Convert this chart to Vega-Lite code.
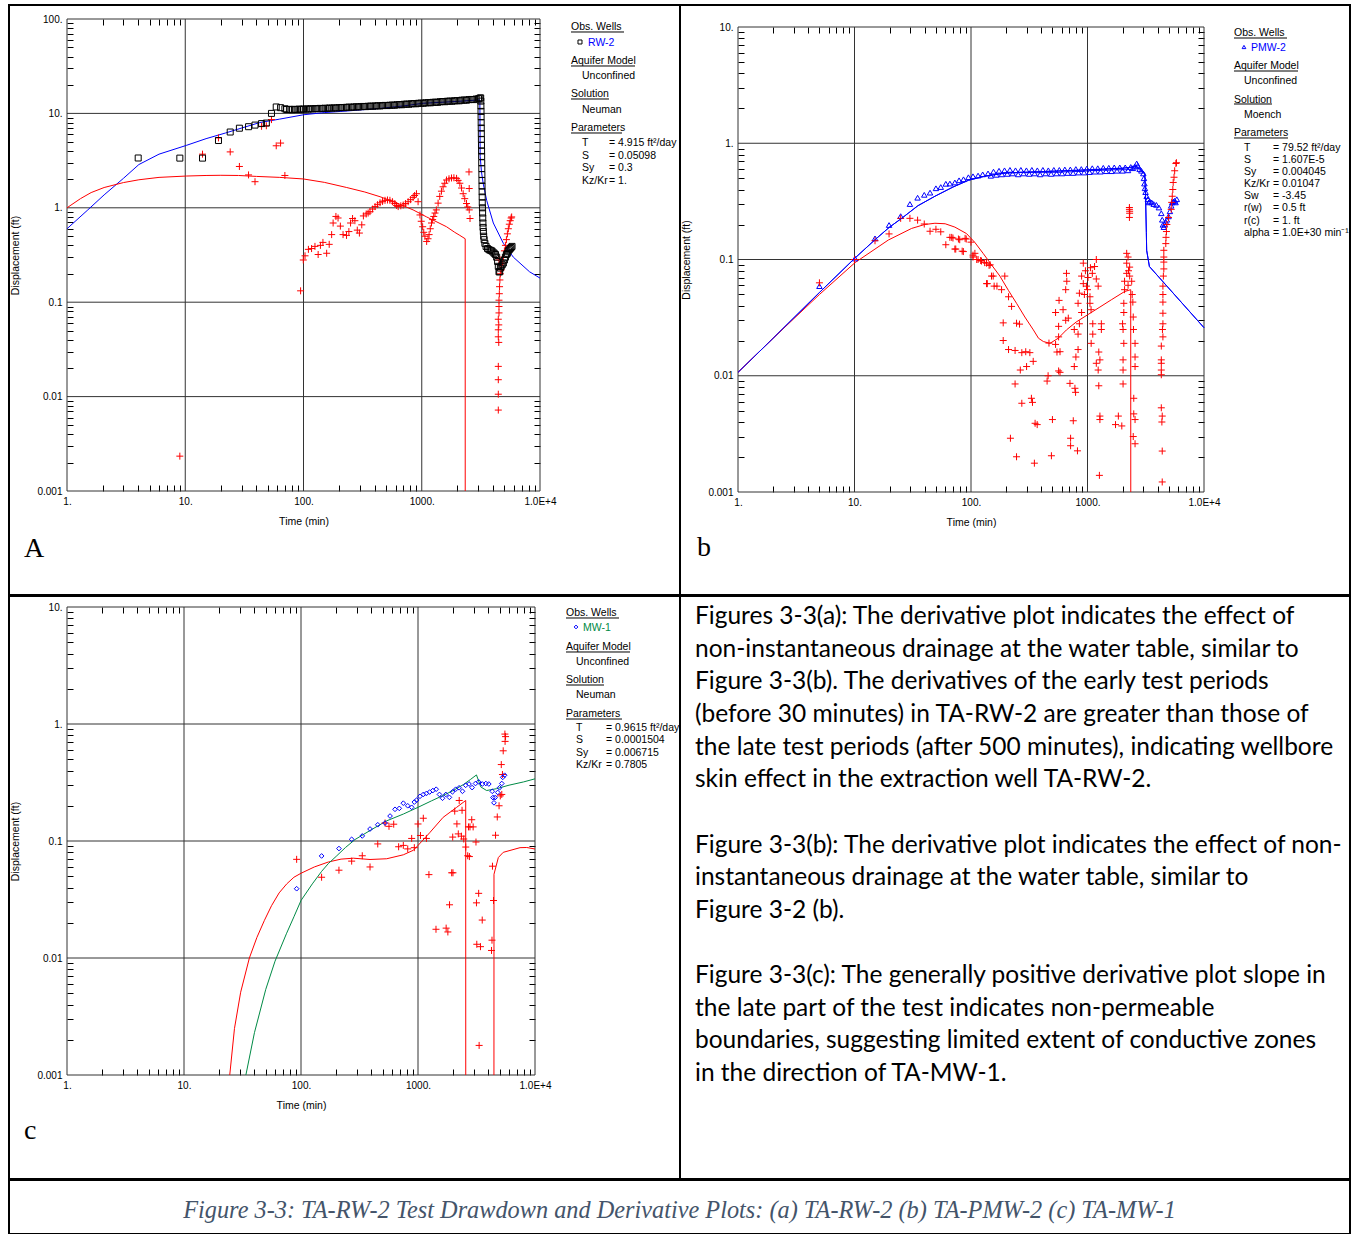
{
"$schema": "https://vega.github.io/schema/vega-lite/v6.json",
"padding": {"left": 8, "top": 4, "right": 2, "bottom": 1},
"background": "white",
"config": {
  "view": {"stroke": "#000", "strokeWidth": 2},
  "font": "Liberation Sans",
  "axis": {"labelFont": "Liberation Sans", "labelFontSize": 10, "labelColor": "#000", "titleFont": "Liberation Sans", "titleFontSize": 10.5, "titleFontWeight": "normal", "titleColor": "#000", "tickColor": "#000", "grid": false, "domain": false}
},
"datasets": {
  "one": [{"k": 1}],
  "gx": [{"t": 1}, {"t": 10}, {"t": 100}, {"t": 1000}, {"t": 10000}],
  "gyA": [{"s": 0.001}, {"s": 0.01}, {"s": 0.1}, {"s": 1}, {"s": 10}, {"s": 100}],
  "gyB": [{"s": 0.001}, {"s": 0.01}, {"s": 0.1}, {"s": 1}, {"s": 10}],
  "a_obs": [
    {"t":4.0,"s":3.37},{"t":9.0,"s":3.36},{"t":14.0,"s":3.36},{"t":19.1,"s":5.16},{"t":24.0,"s":6.35},{"t":28.7,"s":6.97},{"t":34.3,"s":7.23},{"t":38.9,"s":7.52},{"t":44.2,"s":7.8},{"t":48.5,"s":7.9},{"t":53.6,"s":10.0},{"t":58.8,"s":11.7},{"t":64,"s":11.5},{"t":69.6,"s":11.2},
    {"t":72,"s":11.0},{"t":76,"s":11.05},{"t":80,"s":10.95},{"t":84,"s":11.05},{"t":88,"s":11.0},{"t":92,"s":11.1},{"t":96,"s":11.05},{"t":100,"s":11.1},{"t":105,"s":11.15},{"t":110,"s":11.1},{"t":115,"s":11.2},{"t":120,"s":11.15},{"t":126,"s":11.25},{"t":132,"s":11.2},{"t":138,"s":11.3},{"t":145,"s":11.25},{"t":152,"s":11.35},{"t":159,"s":11.3},{"t":166,"s":11.4},{"t":174,"s":11.35},{"t":182,"s":11.45},{"t":191,"s":11.4},{"t":200,"s":11.5},{"t":210,"s":11.55},{"t":220,"s":11.5},{"t":231,"s":11.6},{"t":242,"s":11.65},{"t":254,"s":11.6},{"t":266,"s":11.7},{"t":279,"s":11.75},{"t":292,"s":11.7},{"t":306,"s":11.8},{"t":321,"s":11.85},{"t":336,"s":11.8},{"t":352,"s":11.9},{"t":369,"s":11.95},{"t":387,"s":11.9},{"t":405,"s":12.0},{"t":425,"s":12.05},{"t":445,"s":12.0},{"t":466,"s":12.1},{"t":489,"s":12.15},{"t":512,"s":12.1},{"t":537,"s":12.2},{"t":562,"s":12.25},{"t":589,"s":12.2},{"t":617,"s":12.35},{"t":647,"s":12.4},{"t":678,"s":12.35},{"t":710,"s":12.5},{"t":744,"s":12.55},{"t":780,"s":12.5},{"t":817,"s":12.65},{"t":856,"s":12.7},{"t":897,"s":12.65},{"t":940,"s":12.8},{"t":985,"s":12.85},{"t":1032,"s":12.8},{"t":1081,"s":12.95},{"t":1133,"s":13.0},{"t":1187,"s":12.95},{"t":1244,"s":13.1},{"t":1303,"s":13.15},{"t":1366,"s":13.1},{"t":1431,"s":13.3},{"t":1500,"s":13.35},{"t":1571,"s":13.3},{"t":1646,"s":13.45},{"t":1725,"s":13.5},{"t":1808,"s":13.45},{"t":1894,"s":13.6},{"t":1984,"s":13.65},{"t":2079,"s":13.6},{"t":2179,"s":13.8},{"t":2283,"s":13.85},{"t":2392,"s":13.8},{"t":2506,"s":14.0},{"t":2626,"s":14.05},{"t":2752,"s":14.0},{"t":2883,"s":14.2},{"t":3021,"s":14.3},{"t":3100,"s":14.5},{"t":3150,"s":14.6},
    {"t":3160,"s":13.5},{"t":3165,"s":12},{"t":3170,"s":10.5},{"t":3175,"s":9.2},{"t":3180,"s":8},{"t":3185,"s":7},{"t":3190,"s":6.1},{"t":3195,"s":5.3},{"t":3200,"s":4.6},{"t":3205,"s":4.0},{"t":3210,"s":3.5},{"t":3215,"s":3.0},{"t":3220,"s":2.6},{"t":3225,"s":2.25},{"t":3230,"s":1.95},{"t":3235,"s":1.7},{"t":3240,"s":1.48},{"t":3245,"s":1.3},{"t":3250,"s":1.13},{"t":3260,"s":1.0},{"t":3270,"s":0.88},{"t":3280,"s":0.78},{"t":3290,"s":0.69},{"t":3300,"s":0.62},{"t":3320,"s":0.56},{"t":3340,"s":0.5},
    {"t":3370,"s":0.46},{"t":3420,"s":0.42},{"t":3500,"s":0.39},{"t":3600,"s":0.37},{"t":3700,"s":0.36},{"t":3800,"s":0.355},{"t":3900,"s":0.35},{"t":4000,"s":0.34},{"t":4100,"s":0.33},{"t":4200,"s":0.32},{"t":4300,"s":0.30},{"t":4380,"s":0.27},{"t":4440,"s":0.24},{"t":4500,"s":0.21},{"t":4560,"s":0.21},{"t":4620,"s":0.23},{"t":4700,"s":0.24},{"t":4800,"s":0.25},{"t":4900,"s":0.26},{"t":5000,"s":0.28},{"t":5100,"s":0.30},{"t":5200,"s":0.32},{"t":5300,"s":0.33},{"t":5400,"s":0.35},{"t":5500,"s":0.36},{"t":5600,"s":0.37},{"t":5700,"s":0.38},{"t":5800,"s":0.39}
  ],
  "a_der": [
    {"t":9.0,"s":0.00234},{"t":14,"s":3.7},{"t":19.1,"s":5.5},{"t":24,"s":3.91},{"t":28.7,"s":2.74},{"t":34.3,"s":2.23},{"t":38.9,"s":1.89},{"t":44.2,"s":7.3},{"t":48.5,"s":7.4},{"t":53.6,"s":8.6},{"t":58.8,"s":4.54},{"t":64,"s":4.85},{"t":69.6,"s":2.2},
    {"t":94.5,"s":0.132},{"t":99.6,"s":0.28},{"t":103,"s":0.31},{"t":110,"s":0.363},{"t":117,"s":0.37},{"t":125,"s":0.39},{"t":133,"s":0.32},{"t":139,"s":0.40},{"t":146,"s":0.43},{"t":157,"s":0.33},{"t":165,"s":0.41},{"t":173,"s":0.52},{"t":178,"s":0.69},{"t":188,"s":0.81},{"t":196,"s":0.78},{"t":205,"s":0.64},{"t":216,"s":0.52},{"t":231,"s":0.51},{"t":242,"s":0.56},{"t":250,"s":0.69},{"t":260,"s":0.77},{"t":272,"s":0.73},{"t":285,"s":0.58},{"t":297,"s":0.54},{"t":311,"s":0.66},{"t":321,"s":0.82},{"t":339,"s":0.86},{"t":352,"s":0.88},{"t":365,"s":0.91},{"t":384,"s":0.97},{"t":403,"s":1.03},{"t":423,"s":1.08},{"t":444,"s":1.13},{"t":466,"s":1.17},{"t":489,"s":1.2},{"t":513,"s":1.21},{"t":538,"s":1.2},{"t":565,"s":1.16},{"t":592,"s":1.11},{"t":612,"s":1.06},{"t":632,"s":1.03},{"t":665,"s":1.05},{"t":697,"s":1.07},{"t":730,"s":1.11},{"t":767,"s":1.16},{"t":805,"s":1.22},{"t":845,"s":1.29},{"t":870,"s":1.35},{"t":902,"s":1.41},{"t":931,"s":1.16},{"t":966,"s":0.84},{"t":990,"s":0.72},{"t":1018,"s":0.63},{"t":1040,"s":0.55},{"t":1064,"s":0.50},{"t":1100,"s":0.44},{"t":1130,"s":0.47},{"t":1154,"s":0.52},{"t":1180,"s":0.6},{"t":1209,"s":0.69},{"t":1236,"s":0.75},{"t":1263,"s":0.81},{"t":1295,"s":0.88},{"t":1329,"s":0.95},{"t":1375,"s":1.12},{"t":1420,"s":1.32},{"t":1467,"s":1.5},{"t":1515,"s":1.67},{"t":1565,"s":1.82},{"t":1620,"s":1.97},{"t":1700,"s":2.03},{"t":1785,"s":2.07},{"t":1870,"s":2.08},{"t":1970,"s":2.05},{"t":2030,"s":1.95},{"t":2100,"s":1.82},{"t":2170,"s":1.62},{"t":2240,"s":1.41},{"t":2310,"s":1.25},{"t":2390,"s":1.11},{"t":2450,"s":1.02},{"t":2520,"s":0.95},{"t":2510,"s":2.4},{"t":2520,"s":1.6},{"t":2560,"s":0.77},
    {"t":4440,"s":0.0072},{"t":4440,"s":0.0106},{"t":4440,"s":0.0151},{"t":4440,"s":0.0209},{"t":4480,"s":0.0375},{"t":4440,"s":0.043},{"t":4440,"s":0.051},{"t":4480,"s":0.0575},{"t":4440,"s":0.066},{"t":4500,"s":0.077},{"t":4500,"s":0.09},{"t":4500,"s":0.105},{"t":4530,"s":0.123},{"t":4550,"s":0.146},{"t":4580,"s":0.172},{"t":4620,"s":0.2},{"t":4700,"s":0.22},{"t":4800,"s":0.26},{"t":4900,"s":0.3},{"t":5000,"s":0.35},{"t":5100,"s":0.4},{"t":5200,"s":0.46},{"t":5300,"s":0.53},{"t":5400,"s":0.6},{"t":5500,"s":0.67},{"t":5600,"s":0.73},{"t":5700,"s":0.78},{"t":5760,"s":0.8},{"t":4600,"s":0.25},{"t":4500,"s":0.28}
  ],
  "a_mod": [
    {"t":1,"s":0.6},{"t":1.5,"s":0.95},{"t":2.06,"s":1.37},{"t":3,"s":2.05},{"t":4.05,"s":2.87},{"t":6,"s":3.7},{"t":10.2,"s":4.58},{"t":15,"s":5.4},{"t":21.9,"s":6.2},{"t":30,"s":7.0},{"t":42.7,"s":8.0},{"t":63,"s":8.7},{"t":100,"s":9.67},{"t":150,"s":10.2},{"t":233,"s":10.6},{"t":444,"s":11.3},{"t":700,"s":12.0},{"t":1030,"s":12.8},{"t":2000,"s":13.4},{"t":3050,"s":13.9},{"t":3100,"s":13.9},{"t":3110,"s":8.0},{"t":3115,"s":5.0},{"t":3120,"s":3.5},{"t":3200,"s":2.4},{"t":3310,"s":1.8},{"t":3540,"s":1.2},{"t":4030,"s":0.69},{"t":4900,"s":0.42},{"t":5950,"s":0.3},{"t":8160,"s":0.21},{"t":10000,"s":0.18}
  ],
  "a_dmod": [
    {"t":1,"s":1.0},{"t":1.3,"s":1.25},{"t":1.6,"s":1.45},{"t":2.06,"s":1.64},{"t":3,"s":1.85},{"t":4.05,"s":1.98},{"t":6,"s":2.1},{"t":10.2,"s":2.17},{"t":15,"s":2.2},{"t":20,"s":2.21},{"t":28.2,"s":2.2},{"t":40,"s":2.15},{"t":63,"s":2.1},{"t":100,"s":2.02},{"t":150,"s":1.86},{"t":232,"s":1.64},{"t":330,"s":1.47},{"t":444,"s":1.31},{"t":600,"s":1.14},{"t":845,"s":0.95},{"t":1100,"s":0.8},{"t":1400,"s":0.69},{"t":1620,"s":0.63},{"t":1900,"s":0.55},{"t":2100,"s":0.51},{"t":2330,"s":0.47},{"t":2332,"s":0.001}
  ],
  "b_obs": [
    {"t":5,"s":0.059},{"t":10.1,"s":0.102},{"t":15,"s":0.152},{"t":19.8,"s":0.198},{"t":24.9,"s":0.236},{"t":29.9,"s":0.3},{"t":34.8,"s":0.34},{"t":39.7,"s":0.36},{"t":44.5,"s":0.376},{"t":50,"s":0.41},{"t":55,"s":0.42},{"t":60.8,"s":0.448},{"t":65.9,"s":0.45},{"t":72.7,"s":0.46},{"t":79,"s":0.48},{"t":86.2,"s":0.49},{"t":95,"s":0.51},{"t":104,"s":0.52},{"t":115,"s":0.527},{"t":126,"s":0.54},{"t":140,"s":0.55},
    {"t":148,"s":0.525},{"t":156,"s":0.57},{"t":165,"s":0.535},{"t":174,"s":0.58},{"t":184,"s":0.54},{"t":194,"s":0.585},{"t":205,"s":0.545},{"t":216,"s":0.59},{"t":228,"s":0.55},{"t":241,"s":0.585},{"t":254,"s":0.54},{"t":268,"s":0.59},{"t":283,"s":0.55},{"t":299,"s":0.585},{"t":316,"s":0.545},{"t":333,"s":0.59},{"t":352,"s":0.55},{"t":371,"s":0.585},{"t":392,"s":0.54},{"t":414,"s":0.59},{"t":437,"s":0.55},{"t":461,"s":0.585},{"t":487,"s":0.545},{"t":514,"s":0.59},{"t":543,"s":0.55},{"t":573,"s":0.59},{"t":605,"s":0.55},{"t":639,"s":0.595},{"t":675,"s":0.555},{"t":712,"s":0.595},{"t":752,"s":0.555},{"t":794,"s":0.6},{"t":838,"s":0.56},{"t":885,"s":0.6},{"t":934,"s":0.56},{"t":986,"s":0.605},{"t":1041,"s":0.565},{"t":1099,"s":0.61},{"t":1161,"s":0.57},{"t":1225,"s":0.61},{"t":1294,"s":0.57},{"t":1366,"s":0.615},{"t":1442,"s":0.575},{"t":1523,"s":0.615},{"t":1608,"s":0.575},{"t":1697,"s":0.62},{"t":1792,"s":0.58},{"t":1892,"s":0.62},{"t":1998,"s":0.58},{"t":2109,"s":0.62},{"t":2227,"s":0.585},{"t":2350,"s":0.625},
    {"t":2450,"s":0.61},{"t":2550,"s":0.63},{"t":2645,"s":0.67},{"t":2700,"s":0.64},{"t":2800,"s":0.6},{"t":2900,"s":0.58},{"t":3013,"s":0.55},{"t":3050,"s":0.5},{"t":3080,"s":0.45},{"t":3110,"s":0.41},{"t":3150,"s":0.38},{"t":3220,"s":0.35},{"t":3300,"s":0.33},{"t":3360,"s":0.31},{"t":3428,"s":0.316},{"t":3550,"s":0.31},{"t":3700,"s":0.3},{"t":3900,"s":0.295},{"t":4100,"s":0.28},{"t":4300,"s":0.25},{"t":4380,"s":0.22},{"t":4440,"s":0.199},{"t":4520,"s":0.19},{"t":4600,"s":0.2},{"t":4700,"s":0.21},{"t":4800,"s":0.22},{"t":4960,"s":0.235},{"t":5100,"s":0.26},{"t":5230,"s":0.29},{"t":5340,"s":0.31},{"t":5470,"s":0.316},{"t":5600,"s":0.32},{"t":5700,"s":0.31},{"t":5840,"s":0.33}
  ],
  "b_der": [
    {"t":5,"s":0.063},{"t":10,"s":0.1},{"t":15,"s":0.145},{"t":19.8,"s":0.166},{"t":24.9,"s":0.226},{"t":29.9,"s":0.226},{"t":34.8,"s":0.218},{"t":39.7,"s":0.202},{"t":44.5,"s":0.175},{"t":50,"s":0.182},{"t":55,"s":0.173},{"t":60.8,"s":0.134},{"t":65.9,"s":0.155},{"t":70,"s":0.153},{"t":74,"s":0.123},{"t":80,"s":0.148},{"t":86,"s":0.117},{"t":91,"s":0.15},{"t":100,"s":0.141},{"t":104,"s":0.105},{"t":108,"s":0.113},{"t":115,"s":0.1},{"t":121,"s":0.098},{"t":131,"s":0.094},{"t":138,"s":0.062},{"t":143,"s":0.089},{"t":150,"s":0.072},{"t":158,"s":0.059},
    {"t":68.3,"s":0.155},{"t":78,"s":0.15},{"t":89,"s":0.152},{"t":72.7,"s":0.123},{"t":84,"s":0.118},{"t":104,"s":0.109},{"t":112,"s":0.1},{"t":123,"s":0.097},{"t":136,"s":0.093},{"t":146,"s":0.09},{"t":136,"s":0.062},{"t":155,"s":0.072},{"t":167,"s":0.059},{"t":183,"s":0.055},{"t":195,"s":0.072},{"t":189,"s":0.0285},{"t":210,"s":0.0478},{"t":223,"s":0.0395},{"t":246,"s":0.0283},{"t":261,"s":0.0278},{"t":189,"s":0.0201},{"t":210,"s":0.0168},{"t":239,"s":0.0165},{"t":273,"s":0.0158},{"t":295,"s":0.0161},{"t":320,"s":0.0158},{"t":342,"s":0.0133},{"t":300,"s":0.012},{"t":265,"s":0.0112},{"t":239,"s":0.0085},{"t":273,"s":0.0058},{"t":330,"s":0.0064},{"t":337,"s":0.0059},{"t":355,"s":0.0039},{"t":370,"s":0.0038},{"t":218,"s":0.0029},{"t":246,"s":0.00201},{"t":350,"s":0.00177},{"t":490,"s":0.00205},{"t":500,"s":0.0042},{"t":459,"s":0.01},{"t":450,"s":0.009},{"t":467,"s":0.0191},{"t":532,"s":0.0186},{"t":547,"s":0.016},{"t":581,"s":0.0161},{"t":565,"s":0.0216},{"t":565,"s":0.0266},{"t":532,"s":0.035},{"t":570,"s":0.0445},{"t":617,"s":0.037},{"t":650,"s":0.055},{"t":660,"s":0.076},{"t":664,"s":0.065},{"t":684,"s":0.0313},{"t":650,"s":0.03},{"t":565,"s":0.011},{"t":581,"s":0.0107},{"t":707,"s":0.0086},{"t":780,"s":0.0078},{"t":790,"s":0.0072},{"t":716,"s":0.0029},{"t":716,"s":0.0025},{"t":820,"s":0.00226},{"t":755,"s":0.0041},{"t":770,"s":0.012},{"t":795,"s":0.0145},{"t":830,"s":0.0168},{"t":830,"s":0.0228},{"t":852,"s":0.028},{"t":770,"s":0.025},{"t":890,"s":0.035},{"t":830,"s":0.042},{"t":852,"s":0.0513},{"t":920,"s":0.062},{"t":890,"s":0.072},{"t":920,"s":0.093},{"t":980,"s":0.059},{"t":1000,"s":0.055},{"t":1050,"s":0.0478},{"t":1050,"s":0.042},{"t":1073,"s":0.037},{"t":1100,"s":0.076},{"t":1150,"s":0.087},{"t":1190,"s":0.1},{"t":1190,"s":0.068},{"t":1235,"s":0.059},{"t":1110,"s":0.028},{"t":1110,"s":0.0228},{"t":1075,"s":0.019},{"t":1250,"s":0.016},{"t":1315,"s":0.028},{"t":1315,"s":0.025},{"t":1278,"s":0.0137},{"t":1190,"s":0.0128},{"t":1235,"s":0.0112},{"t":1250,"s":0.0082},{"t":1278,"s":0.0045},{"t":1278,"s":0.0042},{"t":1265,"s":0.00139},{"t":960,"s":0.08},{"t":1010,"s":0.07},{"t":1060,"s":0.085},{"t":940,"s":0.05},
    {"t":1740,"s":0.0038},{"t":1840,"s":0.0045},{"t":1970,"s":0.0037},{"t":2020,"s":0.0085},{"t":2020,"s":0.0112},{"t":2020,"s":0.0137},{"t":2050,"s":0.019},{"t":2020,"s":0.025},{"t":2000,"s":0.028},{"t":2050,"s":0.035},{"t":2050,"s":0.042},{"t":2080,"s":0.055},{"t":2080,"s":0.065},{"t":2170,"s":0.076},{"t":2170,"s":0.093},{"t":2170,"s":0.113},{"t":2230,"s":0.105},{"t":2300,"s":0.086},{"t":2300,"s":0.072},{"t":2395,"s":0.065},{"t":2420,"s":0.05},{"t":2450,"s":0.043},{"t":2470,"s":0.032},{"t":2480,"s":0.025},{"t":2560,"s":0.019},{"t":2560,"s":0.0145},{"t":2560,"s":0.012},{"t":2495,"s":0.0064},{"t":2495,"s":0.0047},{"t":2560,"s":0.0042},{"t":2470,"s":0.003},{"t":2560,"s":0.0026},{"t":2290,"s":0.28},{"t":2300,"s":0.25},{"t":2290,"s":0.27},{"t":2290,"s":0.23},{"t":2300,"s":0.26},{"t":2230,"s":0.06},{"t":2250,"s":0.08},
    {"t":4300,"s":0.018},{"t":4300,"s":0.0137},{"t":4300,"s":0.0128},{"t":4300,"s":0.0112},{"t":4300,"s":0.0102},{"t":4440,"s":0.0345},{"t":4440,"s":0.028},{"t":4400,"s":0.025},{"t":4440,"s":0.0216},{"t":4440,"s":0.043},{"t":4440,"s":0.05},{"t":4440,"s":0.059},{"t":4480,"s":0.072},{"t":4520,"s":0.083},{"t":4520,"s":0.095},{"t":4520,"s":0.105},{"t":4520,"s":0.12},{"t":4700,"s":0.137},{"t":4720,"s":0.155},{"t":4760,"s":0.174},{"t":4800,"s":0.2},{"t":4960,"s":0.23},{"t":5230,"s":0.27},{"t":5280,"s":0.31},{"t":5340,"s":0.35},{"t":5400,"s":0.4},{"t":5440,"s":0.46},{"t":5530,"s":0.51},{"t":5600,"s":0.58},{"t":5740,"s":0.67},{"t":5800,"s":0.68},{"t":4300,"s":0.0053},{"t":4380,"s":0.0045},{"t":4350,"s":0.004},{"t":4380,"s":0.00225},{"t":4380,"s":0.00122}
  ],
  "b_mod": [
    {"t":1,"s":0.0107},{"t":2,"s":0.021},{"t":5,"s":0.052},{"t":10,"s":0.102},{"t":15,"s":0.148},{"t":20,"s":0.19},{"t":25.4,"s":0.226},{"t":35,"s":0.29},{"t":49,"s":0.35},{"t":70,"s":0.42},{"t":95,"s":0.48},{"t":130,"s":0.52},{"t":200,"s":0.555},{"t":400,"s":0.57},{"t":1000,"s":0.59},{"t":2000,"s":0.61},{"t":2645,"s":0.63},{"t":3100,"s":0.55},{"t":3150,"s":0.35},{"t":3200,"s":0.17},{"t":3220,"s":0.12},{"t":3400,"s":0.087},{"t":10000,"s":0.0259}
  ],
  "b_dmod": [
    {"t":1,"s":0.0107},{"t":2,"s":0.021},{"t":5,"s":0.05},{"t":10.1,"s":0.094},{"t":19.5,"s":0.147},{"t":30.9,"s":0.185},{"t":40,"s":0.2},{"t":49,"s":0.205},{"t":60,"s":0.203},{"t":72.7,"s":0.19},{"t":91.6,"s":0.167},{"t":108,"s":0.14},{"t":127,"s":0.113},{"t":150,"s":0.09},{"t":177,"s":0.072},{"t":210,"s":0.054},{"t":246,"s":0.042},{"t":290,"s":0.032},{"t":343,"s":0.0248},{"t":380,"s":0.021},{"t":418,"s":0.0197},{"t":476,"s":0.019},{"t":560,"s":0.021},{"t":660,"s":0.0248},{"t":800,"s":0.029},{"t":1000,"s":0.0334},{"t":1278,"s":0.039},{"t":1600,"s":0.045},{"t":2080,"s":0.053},{"t":2350,"s":0.055},{"t":2352,"s":0.001}
  ],
  "c_obs": [
    {"t":91.8,"s":0.0391},{"t":150,"s":0.0745},{"t":211,"s":0.0862},{"t":271,"s":0.1034},{"t":334,"s":0.1105},{"t":389,"s":0.1266},{"t":453,"s":0.1377},{"t":523,"s":0.1425},{"t":577,"s":0.1635},{"t":636,"s":0.1866},{"t":692,"s":0.19},{"t":749,"s":0.2105},{"t":817,"s":0.2},{"t":883,"s":0.194},{"t":930,"s":0.215},{"t":975,"s":0.224},{"t":1040,"s":0.241},{"t":1110,"s":0.25},{"t":1180,"s":0.255},{"t":1257,"s":0.262},{"t":1340,"s":0.27},{"t":1430,"s":0.277},{"t":1525,"s":0.25},{"t":1620,"s":0.232},{"t":1730,"s":0.25},{"t":1855,"s":0.236},{"t":1970,"s":0.263},{"t":2100,"s":0.277},{"t":2245,"s":0.285},{"t":2400,"s":0.266},{"t":2555,"s":0.299},{"t":2730,"s":0.307},{"t":2900,"s":0.286},{"t":3100,"s":0.31},{"t":3300,"s":0.32},{"t":3550,"s":0.307},{"t":3800,"s":0.31},{"t":4030,"s":0.307},{"t":4310,"s":0.266},{"t":4370,"s":0.235},{"t":4460,"s":0.212},{"t":4560,"s":0.235},{"t":4800,"s":0.26},{"t":4970,"s":0.285},{"t":5200,"s":0.31},{"t":5300,"s":0.35},{"t":5500,"s":0.365}
  ],
  "c_der": [
    {"t":91.8,"s":0.0697},{"t":150,"s":0.049},{"t":211,"s":0.0563},{"t":271,"s":0.0673},{"t":334,"s":0.0748},{"t":389,"s":0.06},{"t":453,"s":0.0944},{"t":523,"s":0.1425},{"t":565,"s":0.1335},{"t":620,"s":0.1392},{"t":683,"s":0.0893},{"t":749,"s":0.0917},{"t":817,"s":0.0856},{"t":883,"s":0.1052},{"t":930,"s":0.0877},{"t":1000,"s":0.1398},{"t":1050,"s":0.1115},{"t":1110,"s":0.1565},{"t":1180,"s":0.1052},{"t":1240,"s":0.0516},{"t":1425,"s":0.0176},{"t":1740,"s":0.018},{"t":1800,"s":0.0167},{"t":1860,"s":0.0285},{"t":1940,"s":0.0535},{"t":1990,"s":0.0535},{"t":1980,"s":0.108},{"t":2060,"s":0.18},{"t":2150,"s":0.14},{"t":2210,"s":0.115},{"t":2250,"s":0.222},{"t":2350,"s":0.11},{"t":2380,"s":0.183},{"t":2460,"s":0.104},{"t":2560,"s":0.0888},{"t":2660,"s":0.0748},{"t":2750,"s":0.0736},{"t":2700,"s":0.132},{"t":2880,"s":0.152},{"t":2780,"s":0.132},{"t":2960,"s":0.132},{"t":3130,"s":0.098},{"t":3300,"s":0.0357},{"t":3160,"s":0.0296},{"t":3540,"s":0.0211},{"t":3180,"s":0.0131},{"t":3420,"s":0.0125},{"t":3330,"s":0.00179},{"t":4330,"s":0.0609},{"t":4420,"s":0.031},{"t":4290,"s":0.0142},{"t":4250,"s":0.0116},{"t":4600,"s":0.112},{"t":4760,"s":0.1605},{"t":4930,"s":0.2},{"t":5050,"s":0.243},{"t":5200,"s":0.25},{"t":5150,"s":0.45},{"t":5270,"s":0.37},{"t":5350,"s":0.59},{"t":5550,"s":0.71},{"t":5530,"s":0.82},{"t":5600,"s":0.78}
  ],
  "c_mod": [
    {"t":33.8,"s":0.001},{"t":40,"s":0.0023},{"t":50,"s":0.0054},{"t":60,"s":0.0094},{"t":75,"s":0.0161},{"t":87,"s":0.0225},{"t":100,"s":0.031},{"t":125,"s":0.043},{"t":150,"s":0.055},{"t":171,"s":0.064},{"t":200,"s":0.074},{"t":240,"s":0.088},{"t":290,"s":0.103},{"t":400,"s":0.125},{"t":540,"s":0.1487},{"t":750,"s":0.17},{"t":1000,"s":0.194},{"t":1300,"s":0.22},{"t":1640,"s":0.245},{"t":2000,"s":0.27},{"t":2460,"s":0.305},{"t":2800,"s":0.335},{"t":3160,"s":0.367},{"t":3440,"s":0.29},{"t":3860,"s":0.27},{"t":4690,"s":0.28},{"t":6000,"s":0.3},{"t":8000,"s":0.32},{"t":10000,"s":0.34}
  ],
  "c_dmod": [
    {"g":1,"t":24.6,"s":0.001},{"g":1,"t":27,"s":0.0025},{"g":1,"t":30.5,"s":0.0051},{"g":1,"t":36.2,"s":0.01},{"g":1,"t":42,"s":0.015},{"g":1,"t":48.7,"s":0.021},{"g":1,"t":56,"s":0.028},{"g":1,"t":65,"s":0.036},{"g":1,"t":75.5,"s":0.043},{"g":1,"t":87,"s":0.049},{"g":1,"t":100,"s":0.053},{"g":1,"t":130,"s":0.06},{"g":1,"t":171,"s":0.0661},{"g":1,"t":220,"s":0.07},{"g":1,"t":280,"s":0.0713},{"g":1,"t":389,"s":0.0695},{"g":1,"t":540,"s":0.0705},{"g":1,"t":749,"s":0.0762},{"g":1,"t":914,"s":0.0834},{"g":1,"t":1000,"s":0.0916},{"g":1,"t":1257,"s":0.1175},{"g":1,"t":1640,"s":0.1593},{"g":1,"t":2140,"s":0.194},{"g":1,"t":2557,"s":0.222},{"g":1,"t":2559,"s":0.001},
    {"g":2,"t":4458,"s":0.001},{"g":2,"t":4462,"s":0.052},{"g":2,"t":4860,"s":0.0722},{"g":2,"t":5350,"s":0.08},{"g":2,"t":7450,"s":0.0877},{"g":2,"t":8500,"s":0.088},{"g":2,"t":10000,"s":0.0854}
  ],
  "txt": [
    {"n":0,"line":"Figures 3-3(a): The derivative plot indicates the effect of"},
    {"n":1,"line":"non-instantaneous drainage at the water table, similar to"},
    {"n":2,"line":"Figure 3-3(b).  The derivatives of the early test periods"},
    {"n":3,"line":"(before 30 minutes) in TA-RW-2 are greater than those of"},
    {"n":4,"line":"the late test periods (after 500 minutes), indicating wellbore"},
    {"n":5,"line":"skin effect in the extraction well TA-RW-2."},
    {"n":7,"line":"Figure 3-3(b): The derivative plot indicates the effect of non-"},
    {"n":8,"line":"instantaneous drainage at the water table, similar to"},
    {"n":9,"line":"Figure 3-2 (b)."},
    {"n":11,"line":"Figure 3-3(c): The generally positive derivative plot slope in"},
    {"n":12,"line":"the late part of the test indicates non-permeable"},
    {"n":13,"line":"boundaries, suggesting limited extent of conductive zones"},
    {"n":14,"line":"in the direction of TA-MW-1."}
  ]
},
"spacing": -2,
"vconcat": [
 {"hconcat": [
  {"width": 671, "height": 590,
   "resolve": {"axis": {"x": "independent", "y": "independent"}},
   "layer": [
    {"data": {"name": "gx"}, "mark": {"type": "rule", "color": "#333", "strokeWidth": 1},
     "encoding": {"x": {"field": "t", "type": "quantitative", "scale": {"type": "log", "domain": [1, 10000], "range": [58, 531], "nice": false}, "axis": null},
                  "y": {"datum": 0.001, "type": "quantitative", "scale": {"type": "log", "domain": [0.001, 100], "range": [486, 14], "nice": false}, "axis": null}, "y2": {"datum": 100}}},
    {"data": {"name": "gyA"}, "mark": {"type": "rule", "color": "#333", "strokeWidth": 1},
     "encoding": {"y": {"field": "s", "type": "quantitative", "scale": {"type": "log", "domain": [0.001, 100], "range": [486, 14], "nice": false}, "axis": null},
                  "x": {"datum": 1, "type": "quantitative", "scale": {"type": "log", "domain": [1, 10000], "range": [58, 531], "nice": false}, "axis": null}, "x2": {"datum": 10000}}},
    {"data": {"name": "a_mod"}, "mark": {"type": "line", "color": "#0000ff", "strokeWidth": 1},
     "encoding": {"x": {"field": "t", "type": "quantitative", "scale": {"type": "log", "domain": [1, 10000], "range": [58, 531], "nice": false},
                        "axis": {"orient": "top", "offset": -20, "values": [2,3,4,5,6,7,8,9,20,30,40,50,60,70,80,90,200,300,400,500,600,700,800,900,2000,3000,4000,5000,6000,7000,8000,9000], "labels": false, "ticks": true, "tickSize": 6, "title": null}},
                  "y": {"field": "s", "type": "quantitative", "scale": {"type": "log", "domain": [0.001, 100], "range": [486, 14], "nice": false},
                        "axis": {"orient": "right", "offset": -146, "values": [0.002,0.003,0.004,0.005,0.006,0.007,0.008,0.009,0.02,0.03,0.04,0.05,0.06,0.07,0.08,0.09,0.2,0.3,0.4,0.5,0.6,0.7,0.8,0.9,2,3,4,5,6,7,8,9,20,30,40,50,60,70,80,90], "labels": false, "ticks": true, "tickSize": 6, "title": null}}}},
    {"data": {"name": "a_dmod"}, "mark": {"type": "line", "color": "#ff0000", "strokeWidth": 1},
     "encoding": {"x": {"field": "t", "type": "quantitative", "scale": {"type": "log", "domain": [1, 10000], "range": [58, 531], "nice": false}, "axis": null},
                  "y": {"field": "s", "type": "quantitative", "scale": {"type": "log", "domain": [0.001, 100], "range": [486, 14], "nice": false}, "axis": null}}},
    {"data": {"name": "a_der"}, "mark": {"type": "point", "shape": "M-1,0L1,0M0,-1L0,1", "size": 49, "color": "#ff0000", "strokeWidth": 1, "filled": false, "opacity": 1},
     "encoding": {"x": {"field": "t", "type": "quantitative", "scale": {"type": "log", "domain": [1, 10000], "range": [58, 531], "nice": false},
                        "axis": {"orient": "bottom", "offset": -110, "values": [2,3,4,5,6,7,8,9,20,30,40,50,60,70,80,90,200,300,400,500,600,700,800,900,2000,3000,4000,5000,6000,7000,8000,9000], "labels": false, "ticks": true, "tickSize": 6, "title": null}},
                  "y": {"field": "s", "type": "quantitative", "scale": {"type": "log", "domain": [0.001, 100], "range": [486, 14], "nice": false},
                        "axis": {"orient": "left", "offset": -64, "values": [0.002,0.003,0.004,0.005,0.006,0.007,0.008,0.009,0.02,0.03,0.04,0.05,0.06,0.07,0.08,0.09,0.2,0.3,0.4,0.5,0.6,0.7,0.8,0.9,2,3,4,5,6,7,8,9,20,30,40,50,60,70,80,90], "labels": false, "ticks": true, "tickSize": 6, "title": null}}}},
    {"data": {"name": "a_obs"}, "mark": {"type": "point", "shape": "square", "size": 36, "color": "#000", "strokeWidth": 1, "filled": false, "opacity": 1},
     "encoding": {"x": {"field": "t", "type": "quantitative", "scale": {"type": "log", "domain": [1, 10000], "range": [58, 531], "nice": false},
                        "axis": {"orient": "bottom", "offset": -104, "values": [1,10,100,1000,10000], "labelExpr": "datum.value >= 10000 ? '1.0E+4' : datum.value + '.'", "ticks": false, "tickSize": 0, "labelPadding": 5, "labelFlush": false, "labelOverlap": false, "labelBound": false, "title": "Time (min)", "titlePadding": 10}},
                  "y": {"field": "s", "type": "quantitative", "scale": {"type": "log", "domain": [0.001, 100], "range": [486, 14], "nice": false},
                        "axis": {"orient": "left", "offset": -58, "values": [0.001,0.01,0.1,1,10,100], "labelExpr": "datum.value >= 1 ? datum.value + '.' : '' + datum.value", "ticks": false, "tickSize": 0, "labelPadding": 5, "labelFlush": false, "labelOverlap": false, "labelBound": false, "title": "Displacement (ft)", "titlePadding": 16}}}},
    {"data": {"name": "one"}, "mark": {"type": "text", "align": "left", "baseline": "alphabetic", "fontSize": 10.5, "lineHeight": 33.7, "color": "#000", "clip": true},
     "encoding": {"x": {"datum": 18290, "type": "quantitative", "scale": {"type": "log", "domain": [1, 10000], "range": [58, 531], "nice": false}, "axis": null},
                  "y": {"datum": 76.5, "type": "quantitative", "scale": {"type": "log", "domain": [0.001, 100], "range": [486, 14], "nice": false}, "axis": null},
                  "text": {"value": ["Obs. Wells", "Aquifer Model", "Solution", "Parameters"]}}},
    {"data": {"name": "one"}, "mark": {"type": "text", "align": "left", "baseline": "alphabetic", "fontSize": 10.5, "lineHeight": 34, "color": "#000", "clip": true},
     "encoding": {"x": {"datum": 22660, "type": "quantitative", "axis": null}, "y": {"datum": 23.14, "type": "quantitative", "axis": null},
                  "text": {"value": ["Unconfined", "Neuman"]}}},
    {"data": {"name": "one"}, "mark": {"type": "point", "shape": "square", "size": 16, "color": "#000", "strokeWidth": 1, "filled": false, "opacity": 1},
     "encoding": {"x": {"datum": 21790, "type": "quantitative", "axis": null}, "y": {"datum": 57.07, "type": "quantitative", "axis": null}}},
    {"data": {"name": "one"}, "mark": {"type": "text", "align": "left", "baseline": "alphabetic", "fontSize": 10.5, "color": "#0000ff", "clip": true},
     "encoding": {"x": {"datum": 25460, "type": "quantitative", "axis": null}, "y": {"datum": 51.8, "type": "quantitative", "axis": null}, "text": {"value": "RW-2"}}},
    {"data": {"name": "one"}, "mark": {"type": "text", "align": "left", "baseline": "alphabetic", "fontSize": 10.5, "lineHeight": 12.7, "color": "#000", "clip": true},
     "encoding": {"x": {"datum": 22660, "type": "quantitative", "axis": null}, "y": {"datum": 4.516, "type": "quantitative", "axis": null},
                  "text": {"value": ["T", "S", "Sy", "Kz/Kr"]}}},
    {"data": {"name": "one"}, "mark": {"type": "text", "align": "left", "baseline": "alphabetic", "fontSize": 10.5, "lineHeight": 12.7, "color": "#000", "clip": true},
     "encoding": {"x": {"datum": 38330, "type": "quantitative", "axis": null}, "y": {"datum": 4.516, "type": "quantitative", "axis": null},
                  "text": {"value": ["= 4.915 ft²/day", "= 0.05098", "= 0.3", "= 1."]}}},
    {"data": {"name": "one"}, "mark": {"type": "rule", "color": "#000", "strokeWidth": 1},
     "encoding": {"x": {"datum": 18290, "type": "quantitative", "axis": null}, "x2": {"datum": 51330}, "y": {"datum": 72.84, "type": "quantitative", "axis": null}}},
    {"data": {"name": "one"}, "mark": {"type": "rule", "color": "#000", "strokeWidth": 1},
     "encoding": {"x": {"datum": 18290, "type": "quantitative", "axis": null}, "x2": {"datum": 63600}, "y": {"datum": 31.78, "type": "quantitative", "axis": null}}},
    {"data": {"name": "one"}, "mark": {"type": "rule", "color": "#000", "strokeWidth": 1},
     "encoding": {"x": {"datum": 18290, "type": "quantitative", "axis": null}, "x2": {"datum": 38330}, "y": {"datum": 14.21, "type": "quantitative", "axis": null}}},
    {"data": {"name": "one"}, "mark": {"type": "rule", "color": "#000", "strokeWidth": 1},
     "encoding": {"x": {"datum": 18290, "type": "quantitative", "axis": null}, "x2": {"datum": 49370}, "y": {"datum": 6.2, "type": "quantitative", "axis": null}}},
    {"data": {"name": "one"}, "mark": {"type": "text", "align": "left", "baseline": "alphabetic", "font": "Liberation Serif", "fontSize": 28, "color": "#000"},
     "encoding": {"x": {"datum": 0.4329, "type": "quantitative", "axis": null}, "y": {"datum": 0.0002, "type": "quantitative", "axis": null}, "text": {"value": "A"}}}
   ]},
  {"width": 670, "height": 590,
   "resolve": {"axis": {"x": "independent", "y": "independent"}},
   "layer": [
    {"data": {"name": "gx"}, "mark": {"type": "rule", "color": "#333", "strokeWidth": 1},
     "encoding": {"x": {"field": "t", "type": "quantitative", "scale": {"type": "log", "domain": [1, 10000], "range": [58, 524], "nice": false}, "axis": null},
                  "y": {"datum": 0.001, "type": "quantitative", "scale": {"type": "log", "domain": [0.001, 10], "range": [487, 22], "nice": false}, "axis": null}, "y2": {"datum": 10}}},
    {"data": {"name": "gyB"}, "mark": {"type": "rule", "color": "#333", "strokeWidth": 1},
     "encoding": {"y": {"field": "s", "type": "quantitative", "scale": {"type": "log", "domain": [0.001, 10], "range": [487, 22], "nice": false}, "axis": null},
                  "x": {"datum": 1, "type": "quantitative", "scale": {"type": "log", "domain": [1, 10000], "range": [58, 524], "nice": false}, "axis": null}, "x2": {"datum": 10000}}},
    {"data": {"name": "b_mod"}, "mark": {"type": "line", "color": "#0000ff", "strokeWidth": 1},
     "encoding": {"x": {"field": "t", "type": "quantitative", "scale": {"type": "log", "domain": [1, 10000], "range": [58, 524], "nice": false},
                        "axis": {"orient": "top", "offset": -28, "values": [2,3,4,5,6,7,8,9,20,30,40,50,60,70,80,90,200,300,400,500,600,700,800,900,2000,3000,4000,5000,6000,7000,8000,9000], "labels": false, "ticks": true, "tickSize": 6, "title": null}},
                  "y": {"field": "s", "type": "quantitative", "scale": {"type": "log", "domain": [0.001, 10], "range": [487, 22], "nice": false},
                        "axis": {"orient": "right", "offset": -152, "values": [0.002,0.003,0.004,0.005,0.006,0.007,0.008,0.009,0.02,0.03,0.04,0.05,0.06,0.07,0.08,0.09,0.2,0.3,0.4,0.5,0.6,0.7,0.8,0.9,2,3,4,5,6,7,8,9], "labels": false, "ticks": true, "tickSize": 6, "title": null}}}},
    {"data": {"name": "b_dmod"}, "mark": {"type": "line", "color": "#ff0000", "strokeWidth": 1},
     "encoding": {"x": {"field": "t", "type": "quantitative", "scale": {"type": "log", "domain": [1, 10000], "range": [58, 524], "nice": false}, "axis": null},
                  "y": {"field": "s", "type": "quantitative", "scale": {"type": "log", "domain": [0.001, 10], "range": [487, 22], "nice": false}, "axis": null}}},
    {"data": {"name": "b_obs"}, "mark": {"type": "point", "shape": "triangle-up", "size": 30, "color": "#0000ff", "strokeWidth": 1, "filled": false, "opacity": 1},
     "encoding": {"x": {"field": "t", "type": "quantitative", "scale": {"type": "log", "domain": [1, 10000], "range": [58, 524], "nice": false},
                        "axis": {"orient": "bottom", "offset": -103, "values": [1,10,100,1000,10000], "labelExpr": "datum.value >= 10000 ? '1.0E+4' : datum.value + '.'", "ticks": false, "tickSize": 0, "labelPadding": 5, "labelFlush": false, "labelOverlap": false, "labelBound": false, "title": "Time (min)", "titlePadding": 10}},
                  "y": {"field": "s", "type": "quantitative", "scale": {"type": "log", "domain": [0.001, 10], "range": [487, 22], "nice": false},
                        "axis": {"orient": "left", "offset": -58, "values": [0.001,0.01,0.1,1,10], "labelExpr": "datum.value >= 1 ? datum.value + '.' : '' + datum.value", "ticks": false, "tickSize": 0, "labelPadding": 5, "labelFlush": false, "labelOverlap": false, "labelBound": false, "title": "Displacement (ft)", "titlePadding": 16}}}},
    {"data": {"name": "b_der"}, "mark": {"type": "point", "shape": "M-1,0L1,0M0,-1L0,1", "size": 49, "color": "#ff0000", "strokeWidth": 1, "filled": false, "opacity": 1},
     "encoding": {"x": {"field": "t", "type": "quantitative", "scale": {"type": "log", "domain": [1, 10000], "range": [58, 524], "nice": false},
                        "axis": {"orient": "bottom", "offset": -109, "values": [2,3,4,5,6,7,8,9,20,30,40,50,60,70,80,90,200,300,400,500,600,700,800,900,2000,3000,4000,5000,6000,7000,8000,9000], "labels": false, "ticks": true, "tickSize": 6, "title": null}},
                  "y": {"field": "s", "type": "quantitative", "scale": {"type": "log", "domain": [0.001, 10], "range": [487, 22], "nice": false},
                        "axis": {"orient": "left", "offset": -64, "values": [0.002,0.003,0.004,0.005,0.006,0.007,0.008,0.009,0.02,0.03,0.04,0.05,0.06,0.07,0.08,0.09,0.2,0.3,0.4,0.5,0.6,0.7,0.8,0.9,2,3,4,5,6,7,8,9], "labels": false, "ticks": true, "tickSize": 6, "title": null}}}},
    {"data": {"name": "b_mod"}, "mark": {"type": "line", "color": "#0000ff", "strokeWidth": 1},
     "encoding": {"x": {"field": "t", "type": "quantitative", "axis": null}, "y": {"field": "s", "type": "quantitative", "axis": null}}},
    {"data": {"name": "one"}, "mark": {"type": "text", "align": "left", "baseline": "alphabetic", "fontSize": 10.5, "lineHeight": 33.3, "color": "#000", "clip": true},
     "encoding": {"x": {"datum": 18090, "type": "quantitative", "axis": null}, "y": {"datum": 8.367, "type": "quantitative", "axis": null},
                  "text": {"value": ["Obs. Wells", "Aquifer Model", "Solution", "Parameters"]}}},
    {"data": {"name": "one"}, "mark": {"type": "text", "align": "left", "baseline": "alphabetic", "fontSize": 10.5, "lineHeight": 34, "color": "#000", "clip": true},
     "encoding": {"x": {"datum": 22040, "type": "quantitative", "axis": null}, "y": {"datum": 3.233, "type": "quantitative", "axis": null},
                  "text": {"value": ["Unconfined", "Moench"]}}},
    {"data": {"name": "one"}, "mark": {"type": "point", "shape": "triangle-up", "size": 14, "color": "#0000ff", "strokeWidth": 1, "filled": false, "opacity": 1},
     "encoding": {"x": {"datum": 22040, "type": "quantitative", "axis": null}, "y": {"datum": 6.73, "type": "quantitative", "axis": null}}},
    {"data": {"name": "one"}, "mark": {"type": "text", "align": "left", "baseline": "alphabetic", "fontSize": 10.5, "color": "#0000ff", "clip": true},
     "encoding": {"x": {"datum": 25320, "type": "quantitative", "axis": null}, "y": {"datum": 6.216, "type": "quantitative", "axis": null}, "text": {"value": "PMW-2"}}},
    {"data": {"name": "one"}, "mark": {"type": "text", "align": "left", "baseline": "alphabetic", "fontSize": 10.5, "lineHeight": 12.1, "color": "#000", "clip": true},
     "encoding": {"x": {"datum": 22040, "type": "quantitative", "axis": null}, "y": {"datum": 0.8577, "type": "quantitative", "axis": null},
                  "text": {"value": ["T", "S", "Sy", "Kz/Kr", "Sw", "r(w)", "r(c)", "alpha"]}}},
    {"data": {"name": "one"}, "mark": {"type": "text", "align": "left", "baseline": "alphabetic", "fontSize": 10.5, "lineHeight": 12.1, "color": "#000", "clip": true},
     "encoding": {"x": {"datum": 39110, "type": "quantitative", "axis": null}, "y": {"datum": 0.8577, "type": "quantitative", "axis": null},
                  "text": {"value": ["= 79.52 ft²/day", "= 1.607E-5", "= 0.004045", "= 0.01047", "= -3.45", "= 0.5 ft", "= 1. ft", "= 1.0E+30 min⁻¹"]}}},
    {"data": {"name": "one"}, "mark": {"type": "rule", "color": "#000", "strokeWidth": 1},
     "encoding": {"x": {"datum": 18090, "type": "quantitative", "axis": null}, "x2": {"datum": 51580}, "y": {"datum": 8.04, "type": "quantitative", "axis": null}}},
    {"data": {"name": "one"}, "mark": {"type": "rule", "color": "#000", "strokeWidth": 1},
     "encoding": {"x": {"datum": 18090, "type": "quantitative", "axis": null}, "x2": {"datum": 64120}, "y": {"datum": 4.182, "type": "quantitative", "axis": null}}},
    {"data": {"name": "one"}, "mark": {"type": "rule", "color": "#000", "strokeWidth": 1},
     "encoding": {"x": {"datum": 18090, "type": "quantitative", "axis": null}, "x2": {"datum": 38340}, "y": {"datum": 2.176, "type": "quantitative", "axis": null}}},
    {"data": {"name": "one"}, "mark": {"type": "rule", "color": "#000", "strokeWidth": 1},
     "encoding": {"x": {"datum": 18090, "type": "quantitative", "axis": null}, "x2": {"datum": 52600}, "y": {"datum": 1.11, "type": "quantitative", "axis": null}}},
    {"data": {"name": "one"}, "mark": {"type": "text", "align": "left", "baseline": "alphabetic", "font": "Liberation Serif", "fontSize": 28, "color": "#000"},
     "encoding": {"x": {"datum": 0.4446, "type": "quantitative", "axis": null}, "y": {"datum": 0.000282, "type": "quantitative", "axis": null}, "text": {"value": "b"}}}
   ]}
 ], "spacing": 0, "bounds": "flush"},
 {"hconcat": [
  {"width": 671, "height": 583,
   "resolve": {"axis": {"x": "independent", "y": "independent"}},
   "layer": [
    {"data": {"name": "gx"}, "mark": {"type": "rule", "color": "#333", "strokeWidth": 1},
     "encoding": {"x": {"field": "t", "type": "quantitative", "scale": {"type": "log", "domain": [1, 10000], "range": [58, 526], "nice": false}, "axis": null},
                  "y": {"datum": 0.001, "type": "quantitative", "scale": {"type": "log", "domain": [0.001, 10], "range": [479, 11], "nice": false}, "axis": null}, "y2": {"datum": 10}}},
    {"data": {"name": "gyB"}, "mark": {"type": "rule", "color": "#333", "strokeWidth": 1},
     "encoding": {"y": {"field": "s", "type": "quantitative", "scale": {"type": "log", "domain": [0.001, 10], "range": [479, 11], "nice": false}, "axis": null},
                  "x": {"datum": 1, "type": "quantitative", "scale": {"type": "log", "domain": [1, 10000], "range": [58, 526], "nice": false}, "axis": null}, "x2": {"datum": 10000}}},
    {"data": {"name": "c_dmod"}, "mark": {"type": "line", "color": "#ff0000", "strokeWidth": 1},
     "encoding": {"x": {"field": "t", "type": "quantitative", "scale": {"type": "log", "domain": [1, 10000], "range": [58, 526], "nice": false},
                        "axis": {"orient": "top", "offset": -17, "values": [2,3,4,5,6,7,8,9,20,30,40,50,60,70,80,90,200,300,400,500,600,700,800,900,2000,3000,4000,5000,6000,7000,8000,9000], "labels": false, "ticks": true, "tickSize": 6, "title": null}},
                  "y": {"field": "s", "type": "quantitative", "scale": {"type": "log", "domain": [0.001, 10], "range": [479, 11], "nice": false},
                        "axis": {"orient": "right", "offset": -151, "values": [0.002,0.003,0.004,0.005,0.006,0.007,0.008,0.009,0.02,0.03,0.04,0.05,0.06,0.07,0.08,0.09,0.2,0.3,0.4,0.5,0.6,0.7,0.8,0.9,2,3,4,5,6,7,8,9], "labels": false, "ticks": true, "tickSize": 6, "title": null}},
                  "detail": {"field": "g", "type": "nominal"}}},
    {"data": {"name": "c_mod"}, "mark": {"type": "line", "color": "#008a45", "strokeWidth": 1},
     "encoding": {"x": {"field": "t", "type": "quantitative", "axis": null}, "y": {"field": "s", "type": "quantitative", "axis": null}}},
    {"data": {"name": "c_der"}, "mark": {"type": "point", "shape": "M-1,0L1,0M0,-1L0,1", "size": 49, "color": "#ff0000", "strokeWidth": 1, "filled": false, "opacity": 1},
     "encoding": {"x": {"field": "t", "type": "quantitative", "scale": {"type": "log", "domain": [1, 10000], "range": [58, 526], "nice": false},
                        "axis": {"orient": "bottom", "offset": -110, "values": [2,3,4,5,6,7,8,9,20,30,40,50,60,70,80,90,200,300,400,500,600,700,800,900,2000,3000,4000,5000,6000,7000,8000,9000], "labels": false, "ticks": true, "tickSize": 6, "title": null}},
                  "y": {"field": "s", "type": "quantitative", "scale": {"type": "log", "domain": [0.001, 10], "range": [479, 11], "nice": false},
                        "axis": {"orient": "left", "offset": -64, "values": [0.002,0.003,0.004,0.005,0.006,0.007,0.008,0.009,0.02,0.03,0.04,0.05,0.06,0.07,0.08,0.09,0.2,0.3,0.4,0.5,0.6,0.7,0.8,0.9,2,3,4,5,6,7,8,9], "labels": false, "ticks": true, "tickSize": 6, "title": null}}}},
    {"data": {"name": "c_obs"}, "mark": {"type": "point", "shape": "diamond", "size": 22, "color": "#0000ff", "strokeWidth": 1, "filled": false, "opacity": 1},
     "encoding": {"x": {"field": "t", "type": "quantitative", "scale": {"type": "log", "domain": [1, 10000], "range": [58, 526], "nice": false},
                        "axis": {"orient": "bottom", "offset": -104, "values": [1,10,100,1000,10000], "labelExpr": "datum.value >= 10000 ? '1.0E+4' : datum.value + '.'", "ticks": false, "tickSize": 0, "labelPadding": 5, "labelFlush": false, "labelOverlap": false, "labelBound": false, "title": "Time (min)", "titlePadding": 10}},
                  "y": {"field": "s", "type": "quantitative", "scale": {"type": "log", "domain": [0.001, 10], "range": [479, 11], "nice": false},
                        "axis": {"orient": "left", "offset": -58, "values": [0.001,0.01,0.1,1,10], "labelExpr": "datum.value >= 1 ? datum.value + '.' : '' + datum.value", "ticks": false, "tickSize": 0, "labelPadding": 5, "labelFlush": false, "labelOverlap": false, "labelBound": false, "title": "Displacement (ft)", "titlePadding": 16}}}},
    {"data": {"name": "one"}, "mark": {"type": "text", "align": "left", "baseline": "alphabetic", "fontSize": 10.5, "lineHeight": 33.7, "color": "#000", "clip": true},
     "encoding": {"x": {"datum": 18410, "type": "quantitative", "axis": null}, "y": {"datum": 8.377, "type": "quantitative", "axis": null},
                  "text": {"value": ["Obs. Wells", "Aquifer Model", "Solution", "Parameters"]}}},
    {"data": {"name": "one"}, "mark": {"type": "text", "align": "left", "baseline": "alphabetic", "fontSize": 10.5, "lineHeight": 33, "color": "#000", "clip": true},
     "encoding": {"x": {"datum": 22410, "type": "quantitative", "axis": null}, "y": {"datum": 3.193, "type": "quantitative", "axis": null},
                  "text": {"value": ["Unconfined", "Neuman"]}}},
    {"data": {"name": "one"}, "mark": {"type": "point", "shape": "diamond", "size": 14, "color": "#0000ff", "strokeWidth": 1, "filled": false, "opacity": 1},
     "encoding": {"x": {"datum": 22410, "type": "quantitative", "axis": null}, "y": {"datum": 6.749, "type": "quantitative", "axis": null}}},
    {"data": {"name": "one"}, "mark": {"type": "text", "align": "left", "baseline": "alphabetic", "fontSize": 10.5, "color": "#008a45", "clip": true},
     "encoding": {"x": {"datum": 25720, "type": "quantitative", "axis": null}, "y": {"datum": 6.236, "type": "quantitative", "axis": null}, "text": {"value": "MW-1"}}},
    {"data": {"name": "one"}, "mark": {"type": "text", "align": "left", "baseline": "alphabetic", "fontSize": 10.5, "lineHeight": 12.3, "color": "#000", "clip": true},
     "encoding": {"x": {"datum": 22410, "type": "quantitative", "axis": null}, "y": {"datum": 0.8712, "type": "quantitative", "axis": null},
                  "text": {"value": ["T", "S", "Sy", "Kz/Kr"]}}},
    {"data": {"name": "one"}, "mark": {"type": "text", "align": "left", "baseline": "alphabetic", "fontSize": 10.5, "lineHeight": 12.3, "color": "#000", "clip": true},
     "encoding": {"x": {"datum": 40440, "type": "quantitative", "axis": null}, "y": {"datum": 0.8712, "type": "quantitative", "axis": null},
                  "text": {"value": ["= 0.9615 ft²/day", "= 0.0001504", "= 0.006715", "= 0.7805"]}}},
    {"data": {"name": "one"}, "mark": {"type": "rule", "color": "#000", "strokeWidth": 1},
     "encoding": {"x": {"datum": 18410, "type": "quantitative", "axis": null}, "x2": {"datum": 52240}, "y": {"datum": 8.054, "type": "quantitative", "axis": null}}},
    {"data": {"name": "one"}, "mark": {"type": "rule", "color": "#000", "strokeWidth": 1},
     "encoding": {"x": {"datum": 18410, "type": "quantitative", "axis": null}, "x2": {"datum": 64860}, "y": {"datum": 4.125, "type": "quantitative", "axis": null}}},
    {"data": {"name": "one"}, "mark": {"type": "rule", "color": "#000", "strokeWidth": 1},
     "encoding": {"x": {"datum": 18410, "type": "quantitative", "axis": null}, "x2": {"datum": 38880}, "y": {"datum": 2.154, "type": "quantitative", "axis": null}}},
    {"data": {"name": "one"}, "mark": {"type": "rule", "color": "#000", "strokeWidth": 1},
     "encoding": {"x": {"datum": 18410, "type": "quantitative", "axis": null}, "x2": {"datum": 55410}, "y": {"datum": 1.103, "type": "quantitative", "axis": null}}},
    {"data": {"name": "one"}, "mark": {"type": "text", "align": "left", "baseline": "alphabetic", "font": "Liberation Serif", "fontSize": 28, "color": "#000"},
     "encoding": {"x": {"datum": 0.429, "type": "quantitative", "axis": null}, "y": {"datum": 0.000284, "type": "quantitative", "axis": null}, "text": {"value": "c"}}}
   ]},
  {"width": 670, "height": 583,
   "data": {"name": "txt"},
   "mark": {"type": "text", "align": "left", "baseline": "alphabetic", "font": "Lato", "fontSize": 24.5, "color": "#000"},
   "encoding": {
     "x": {"datum": 0, "type": "quantitative", "scale": {"domain": [0, 1], "range": [15, 655]}, "axis": null},
     "y": {"field": "n", "type": "quantitative", "scale": {"domain": [0, 14], "range": [28, 485]}, "axis": null},
     "text": {"field": "line"}
   }}
 ], "spacing": 0, "bounds": "flush"},
 {"width": 1341, "height": 54,
  "data": {"values": [{"c": "Figure 3-3: TA-RW-2 Test Drawdown and Derivative Plots: (a) TA-RW-2 (b) TA-PMW-2 (c) TA-MW-1"}]},
  "mark": {"type": "text", "align": "center", "baseline": "alphabetic", "font": "Liberation Serif", "fontStyle": "italic", "fontSize": 24.3, "color": "#44546a"},
  "encoding": {
    "x": {"datum": 0.5, "type": "quantitative", "scale": {"domain": [0, 1], "range": [0, 1341]}, "axis": null},
    "y": {"datum": 0.7, "type": "quantitative", "scale": {"domain": [0, 1], "range": [0, 54]}, "axis": null},
    "text": {"field": "c"}
  }}
]
}
